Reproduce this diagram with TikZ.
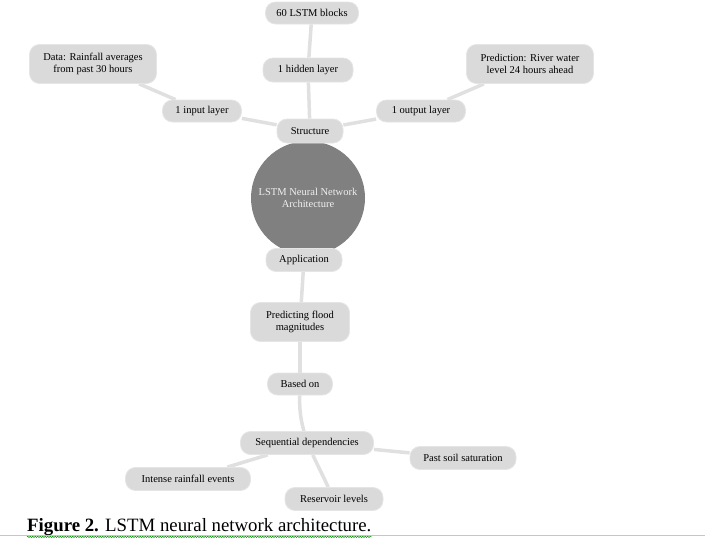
\documentclass[tikz,border=0pt]{standalone}
\usepackage{fontspec}
\setmainfont{Liberation Serif}
\usetikzlibrary{backgrounds,decorations.pathmorphing}
\definecolor{boxgray}{RGB}{218,218,218}
\definecolor{linkgray}{RGB}{224,224,224}
\definecolor{hubgray}{RGB}{128,128,128}

\begin{document}
\begin{tikzpicture}[x=1pt,y=-1pt,
  box/.style={rounded corners=10pt,fill=boxgray,draw=black!10,line width=0.8pt,
    inner sep=0pt,align=center,font=\fontsize{10.5}{12.5}\selectfont},
  hub/.style={circle,fill=hubgray,minimum size=114pt,inner sep=0pt,align=center,
    text=black!6,font=\fontsize{10.5}{12.5}\selectfont},
  link/.style={draw=linkgray,line width=3.5pt}]
  \useasboundingbox (0,0) rectangle (705,538);
  \node[hub] (lstm) at (308,198) {LSTM Neural Network\\Architecture};
  \node[box,minimum width=66pt,minimum height=24pt] (struct) at (310,131) {Structure};
  \node[box,minimum width=79pt,minimum height=22pt] (inlayer) at (202,111) {1 input layer};
  \node[box,minimum width=90pt,minimum height=24pt] (hidden) at (308,70) {1 hidden layer};
  \node[box,minimum width=89pt,minimum height=22pt] (outlayer) at (421,111) {1 output layer};
  \node[box,minimum width=93pt,minimum height=22pt] (blocks) at (312,13) {60 LSTM blocks};
  \node[box,minimum width=127pt,minimum height=39pt] (data) at (93,64) {Data: Rainfall averages\\from past 30 hours};
  \node[box,minimum width=127pt,minimum height=39pt] (predict) at (530,64) {Prediction: River water\\level 24 hours ahead};
  \node[box,minimum width=76pt,minimum height=23pt] (app) at (304,260) {Application};
  \node[box,minimum width=99pt,minimum height=39pt] (flood) at (300,322) {Predicting flood\\magnitudes};
  \node[box,minimum width=65pt,minimum height=22pt] (based) at (300,384) {Based on};
  \node[box,minimum width=133pt,minimum height=23pt] (seq) at (307,443) {Sequential dependencies};
  \node[box,minimum width=106pt,minimum height=23pt] (soil) at (463,458) {Past soil saturation};
  \node[box,minimum width=125pt,minimum height=23pt] (rain) at (188,479) {Intense rainfall events};
  \node[box,minimum width=98pt,minimum height=23pt] (reservoir) at (334,499) {Reservoir levels};
  \begin{pgfonlayer}{background}
    \draw[link] (struct) -- (inlayer);
    \draw[link] (struct) -- (hidden);
    \draw[link] (struct) -- (outlayer);
    \draw[link] (hidden) -- (blocks);
    \draw[link] (inlayer) -- (data);
    \draw[link] (outlayer) -- (predict);
    \draw[link] (app) -- (flood);
    \draw[link] (flood) -- (based);
    \draw[link] (based) to[bend right=8] (seq);
    \draw[link] (seq) -- (soil);
    \draw[link] (seq) -- (rain);
    \draw[link] (seq) -- (reservoir);
  \end{pgfonlayer}
  % caption
  \node[anchor=base west,inner sep=0pt,font=\fontsize{18.8}{22}\selectfont] (caption) at (27,531)
    {\textbf{Figure 2.} LSTM neural network architecture.};
  \draw[green!55!black,line width=0.5pt,decorate,decoration={snake,amplitude=0.6pt,segment length=2.5pt}]
    ([yshift=-1.5pt]caption.south west) -- ([yshift=-1.5pt]caption.south east);
  \draw[blue!25,line width=1pt] (0,535) -- (705,535);
\end{tikzpicture}
\end{document}
